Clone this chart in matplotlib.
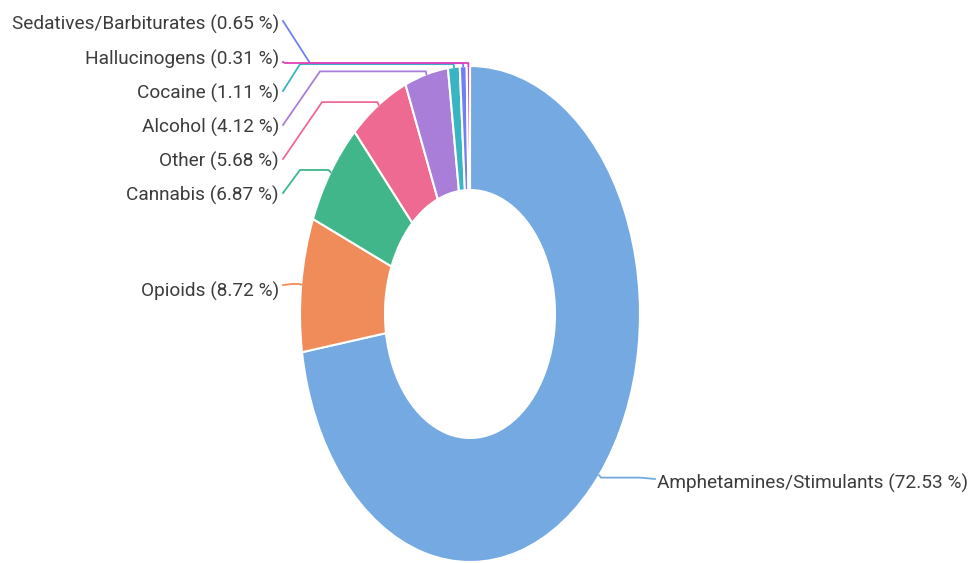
import matplotlib
matplotlib.use("Agg")
import matplotlib.pyplot as plt
import numpy as np

# ---- data ----
categories = ["Amphetamines/Stimulants", "Opioids", "Cannabis", "Other",
              "Alcohol", "Cocaine", "Sedatives/Barbiturates", "Hallucinogens"]
values = [72.53, 8.72, 6.87, 5.68, 4.12, 1.11, 0.65, 0.31]
colors = ["#74A9E1", "#EF8C5A", "#40B68A", "#EF6A93",
          "#A87ED8", "#38B4C3", "#7080F0", "#E040B8"]

# ---- layout (pixels in a 973x563 image) ----
W, H = 973, 563
CX, CY, RX, RY = 470, 314, 170, 248
# line anchor (x, y), elbow x, label y, alignment
label_anchor = {
    "Amphetamines/Stimulants": (655, 479, 640, 483, "left"),
    "Opioids": (283, 285, 292, 291, "right"),
    "Cannabis": (283, 193, 300, 195, "right"),
    "Other": (283, 159, 322, 161, "right"),
    "Alcohol": (283, 125, 320, 127, "right"),
    "Cocaine": (283, 91, 300, 93, "right"),
    "Sedatives/Barbiturates": (283, 21, 310, 24, "right"),
    "Hallucinogens": (283, 62, 285, 59, "right"),
}


def px2d(px, py):
    return (px - CX) / RX, (CY - py) / RY


fig = plt.figure(figsize=(W / 100, H / 100), dpi=100)
ax = fig.add_axes([0, 0, 1, 1])
wedges, _ = ax.pie(values, colors=colors, startangle=90, counterclock=False,
                   radius=1.0,
                   wedgeprops=dict(width=0.5, edgecolor="white", linewidth=1.5))
ax.set_aspect("auto")
x0, y0 = px2d(0, H)
x1, y1 = px2d(W, 0)
ax.set_xlim(x0, x1)
ax.set_ylim(y0, y1)
ax.axis("off")

for i, name in enumerate(categories):
    w = wedges[i]
    mid = np.deg2rad((w.theta1 + w.theta2) / 2)
    ex, ey = np.cos(mid), np.sin(mid)
    ppx = CX + ex * RX
    ppy = CY - ey * RY
    ux, uy = ex * RX, -ey * RY
    n = np.hypot(ux, uy)
    p1px = (ppx + ux / n * 3, ppy + uy / n * 3)
    ax_px, ay_px, elbow_x, ly, ha = label_anchor[name]
    pts_px = [(ppx, ppy), p1px, (elbow_x, p1px[1]), (ax_px, ay_px)]
    xs, ys = zip(*[px2d(a, b) for a, b in pts_px])
    ax.plot(xs, ys, color=colors[i], lw=1.3, solid_joinstyle="miter",
            clip_on=False, zorder=3)
    tx = ax_px + (2 if ha == "left" else -4)
    tdx, tdy = px2d(tx, ly)
    ax.text(tdx, tdy, f"{name} ({values[i]:.2f} %)", ha=ha, va="center",
            fontsize=13.7, color="#3c3c3c", family=["Roboto", "DejaVu Sans"])

fig.savefig("out.png", dpi=100, facecolor="white")
